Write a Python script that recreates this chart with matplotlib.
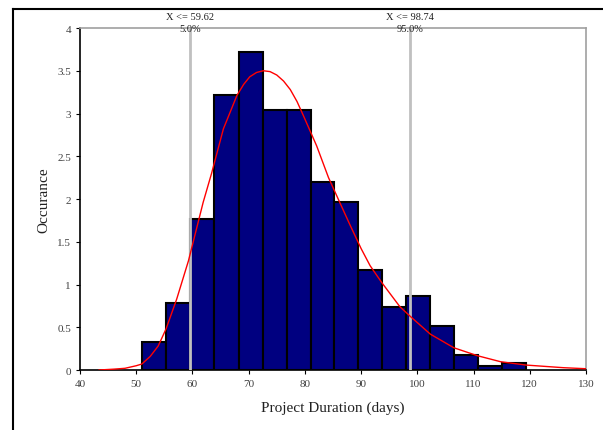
import matplotlib
matplotlib.use("Agg")
import matplotlib.pyplot as plt
import matplotlib.transforms as mtransforms
from matplotlib.lines import Line2D

plt.rcParams['font.family'] = ['Liberation Serif', 'DejaVu Serif']

# histogram bins (left edges) and heights
bin_edges = [51.0, 55.3, 59.5, 63.8, 68.2, 72.5, 76.8, 81.0, 85.1,
             89.4, 93.7, 97.9, 102.3, 106.6, 110.8, 115.0, 119.3]
heights = [0.33, 0.78, 1.77, 3.22, 3.72, 3.04, 3.04, 2.20, 1.96,
           1.17, 0.74, 0.86, 0.51, 0.17, 0.05, 0.08]

# fitted curve, points
curve_x = [43.4, 46, 48, 50, 51, 52.5, 53.9, 55.3, 57.2, 59.3, 61.9, 63.4,
           65.5, 67.9, 69.1, 70.2, 71.4, 72.6, 73.8, 75.0, 76.2, 77.4, 78.6,
           79.7, 82.1, 84.2, 86.2, 88.0, 90.0, 91.6, 93.7, 96.9, 98.7, 102.3,
           106.5, 110.7, 114.8, 119.3, 126.0, 130.0]
curve_y = [0.0, 0.01, 0.02, 0.05, 0.07, 0.16, 0.28, 0.48, 0.83, 1.28, 1.96, 2.30,
           2.82, 3.21, 3.34, 3.43, 3.48, 3.50, 3.49, 3.45, 3.38, 3.28, 3.14,
           2.98, 2.62, 2.25, 1.96, 1.70, 1.42, 1.22, 1.02, 0.74, 0.63, 0.42,
           0.26, 0.167, 0.097, 0.058, 0.027, 0.015]

# percentile markers
marker_x = [59.62, 98.74]
marker_top = ["X <= 59.62", "X <= 98.74"]
marker_pct = ["5.0%", "95.0%"]

fig = plt.figure(figsize=(6.03, 4.31), dpi=100)
ax = fig.add_axes([0.1327, 0.1392, 0.8391, 0.7935])

lefts = bin_edges[:-1]
widths = [b - a for a, b in zip(bin_edges[:-1], bin_edges[1:])]
ax.bar(lefts, heights, width=widths, align='edge', color='#000080',
       edgecolor='black', linewidth=1.5, zorder=2)

for x in marker_x:
    ax.plot([x, x], [0, 4], color='#c0c0c0', lw=2, zorder=3)

ax.plot(curve_x, curve_y, color='red', lw=1, zorder=4)

trans = mtransforms.blended_transform_factory(ax.transData, ax.transAxes)
for x, t1, t2 in zip(marker_x, marker_top, marker_pct):
    ax.text(x, 1.035, t1, transform=trans, ha='center', va='center',
            fontsize=7.5, color='#202020')
    ax.text(x, 0.999, t2, transform=trans, ha='center', va='center',
            fontsize=7.5, color='#202020')

ax.set_xlim(40, 130)
ax.set_ylim(0, 4)
ax.set_xticks(range(40, 131, 10))
ax.set_yticks([0, 0.5, 1, 1.5, 2, 2.5, 3, 3.5, 4])
ax.set_yticklabels(['0', '0.5', '1', '1.5', '2', '2.5', '3', '3.5', '4'])
ax.tick_params(axis='both', labelsize=8, labelcolor='#404040', length=3,
               width=0.8, direction='out')

for s in ['top', 'right']:
    ax.spines[s].set_color('#a0a0a0')
    ax.spines[s].set_linewidth(1.2)
for s in ['left', 'bottom']:
    ax.spines[s].set_color('black')
    ax.spines[s].set_linewidth(1.2)

ax.set_xlabel('Project Duration (days)', fontsize=11, color='#202020', labelpad=9)
ax.set_ylabel('Occurance', fontsize=11, color='#202020', labelpad=5)

# outer frame (partly cut off in the original)
fx = 13 / 603
fy = 1 - 10 / 431
fig.add_artist(Line2D([fx, fx], [0, fy], color='black', lw=1.5,
                      transform=fig.transFigure))
fig.add_artist(Line2D([fx, 1], [fy, fy], color='black', lw=1.5,
                      transform=fig.transFigure))

fig.savefig('out.png', dpi=100)
